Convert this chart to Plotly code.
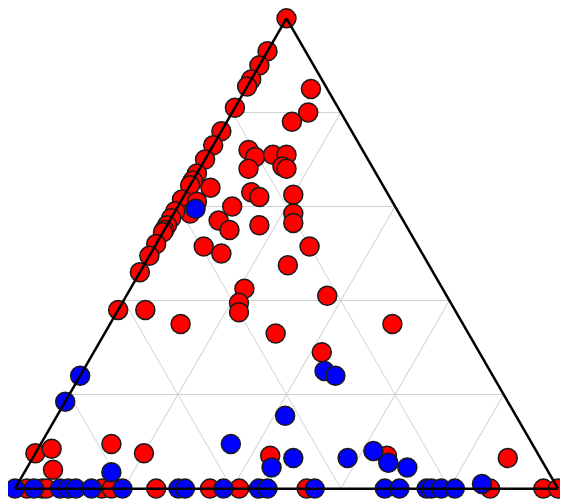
import plotly.graph_objects as go

# Red group: (a = top, b = bottom-left, c = bottom-right)
red_a = [1.00, 0.93, 0.90, 0.87, 0.855, 0.85, 0.81, 0.80, 0.78, 0.76,
         0.73, 0.70, 0.67, 0.655, 0.645, 0.64, 0.615, 0.61, 0.585, 0.59,
         0.575, 0.56, 0.55, 0.545, 0.52, 0.495, 0.46, 0.38, 0.38, 0.35,
         0.72, 0.705, 0.68, 0.71, 0.71, 0.685, 0.68, 0.63, 0.62, 0.60,
         0.625, 0.585, 0.565, 0.57, 0.55, 0.56, 0.515, 0.50, 0.475, 0.515,
         0.425, 0.395, 0.375, 0.41, 0.35, 0.33, 0.29, 0.075, 0.085, 0.04,
         0.095, 0.075, 0.07, 0.07, 0.065,
         0, 0, 0, 0, 0, 0, 0, 0, 0, 0, 0, 0]
red_b = [0.00, 0.07, 0.10, 0.13, 0.145, 0.03, 0.19, 0.06, 0.10, 0.24,
         0.27, 0.30, 0.33, 0.345, 0.355, 0.32, 0.385, 0.36, 0.385, 0.41,
         0.425, 0.44, 0.45, 0.455, 0.48, 0.505, 0.54, 0.62, 0.57, 0.52,
         0.21, 0.205, 0.23, 0.17, 0.145, 0.165, 0.16, 0.25, 0.24, 0.30,
         0.175, 0.195, 0.205, 0.34, 0.33, 0.27, 0.395, 0.37, 0.26, 0.20,
         0.365, 0.39, 0.40, 0.22, 0.13, 0.355, 0.29, 0.925, 0.89, 0.91,
         0.775, 0.725, 0.495, 0.28, 0.06,
         0.978, 0.95, 0.942, 0.84, 0.822, 0.74, 0.641, 0.587, 0.463, 0.125, 0.027, 0.0]
red_c = [0.00, 0.00, 0.00, 0.00, 0.00, 0.12, 0.00, 0.14, 0.12, 0.00,
         0.00, 0.00, 0.00, 0.00, 0.00, 0.04, 0.00, 0.03, 0.03, 0.00,
         0.00, 0.00, 0.00, 0.00, 0.00, 0.00, 0.00, 0.00, 0.05, 0.13,
         0.07, 0.09, 0.09, 0.12, 0.145, 0.15, 0.16, 0.12, 0.14, 0.10,
         0.20, 0.22, 0.23, 0.09, 0.12, 0.17, 0.09, 0.13, 0.265, 0.285,
         0.21, 0.215, 0.225, 0.37, 0.52, 0.315, 0.42, 0.00, 0.025, 0.05,
         0.13, 0.20, 0.435, 0.65, 0.875,
         0.022, 0.05, 0.058, 0.16, 0.178, 0.26, 0.359, 0.413, 0.537, 0.875, 0.973, 1.0]

# Blue group
blue_a = [0.595, 0.24, 0.185, 0.035, 0.095, 0.155, 0.045, 0.065, 0.065, 0.08,
          0.055, 0.045, 0.25, 0.24, 0.01,
          0, 0, 0, 0, 0, 0, 0, 0, 0, 0, 0, 0, 0, 0, 0, 0, 0, 0, 0]
blue_b = [0.37, 0.76, 0.815, 0.805, 0.555, 0.425, 0.505, 0.455, 0.355, 0.30,
          0.285, 0.255, 0.305, 0.29, 0.135,
          1.0, 0.965, 0.917, 0.902, 0.888, 0.859, 0.802, 0.699, 0.687, 0.616,
          0.551, 0.535, 0.448, 0.319, 0.292, 0.242, 0.233, 0.215, 0.19]
blue_c = [0.035, 0.00, 0.00, 0.16, 0.35, 0.42, 0.45, 0.48, 0.58, 0.62,
          0.66, 0.70, 0.445, 0.47, 0.855,
          0.0, 0.035, 0.083, 0.098, 0.112, 0.141, 0.198, 0.301, 0.313, 0.384,
          0.449, 0.465, 0.552, 0.681, 0.708, 0.758, 0.767, 0.785, 0.81]

fig = go.Figure()
for a, b, c, col in [(red_a, red_b, red_c, "#ff0000"), (blue_a, blue_b, blue_c, "#0000ff")]:
    fig.add_trace(go.Scatterternary(
        a=a, b=b, c=c, mode="markers", cliponaxis=False,
        marker=dict(size=19, color=col, line=dict(color="#1a1a1a", width=1.5)),
        hoverinfo="skip", showlegend=False))

axis = dict(showticklabels=False, ticks="", showgrid=True, gridcolor="#d2d2d2",
            gridwidth=1, linecolor="black", linewidth=2.5, dtick=0.2, tick0=0, title=dict(text=""))
fig.update_layout(
    width=568, height=501,
    margin=dict(l=7, r=18, t=10, b=20),
    paper_bgcolor="white",
    ternary=dict(sum=1, bgcolor="white", aaxis=axis, baxis=axis, caxis=axis),
    showlegend=False,
)
fig.write_html("out.html")
